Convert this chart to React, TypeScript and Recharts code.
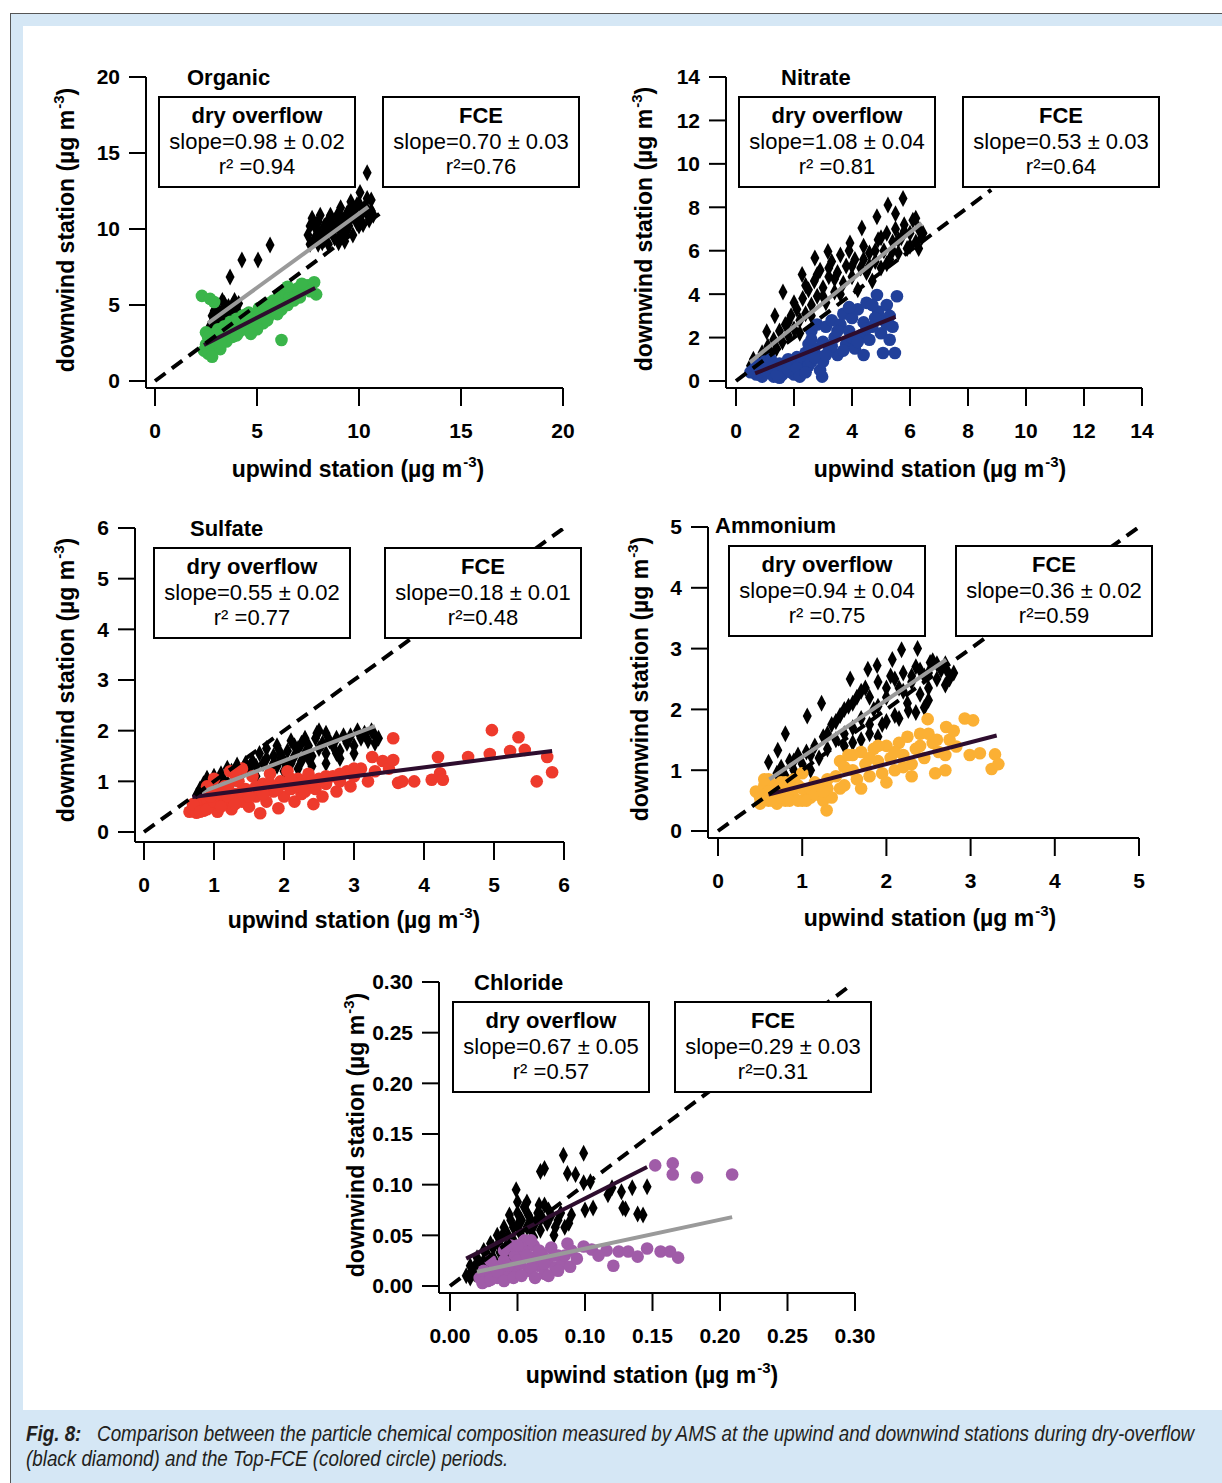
import React from 'react';
import { ScatterChart, Scatter, XAxis, YAxis } from 'recharts';

// [upwind, downwind] pairs (µg m-3)

const organicTicks = [0, 5, 10, 15, 20];
const organicDry = [
  [2.7, 3.6], [2.9, 3.9], [3.0, 4.3], [3.2, 3.8], [3.3, 4.6], [3.5, 4.1], [3.6, 4.9], [3.8, 4.4],
  [3.9, 5.3], [4.0, 4.7], [3.4, 5.1], [3.1, 4.7], [2.8, 4.3], [3.7, 3.9], [3.68, 6.84], [4.26, 7.96],
  [5.05, 7.96], [5.64, 8.95], [7.5, 9.6], [7.6, 10.2], [7.8, 9.3], [7.9, 10.0], [8.0, 10.5], [8.1, 9.7],
  [8.2, 9.1], [8.3, 10.2], [8.4, 9.6], [8.5, 10.6], [8.6, 9.9], [8.7, 10.3], [8.8, 9.4], [8.9, 10.8],
  [9.0, 10.1], [9.1, 11.4], [9.2, 9.8], [9.3, 10.5], [9.4, 11.0], [9.5, 10.2], [9.6, 10.7], [9.7, 9.6],
  [9.8, 11.3], [9.9, 10.4], [10.0, 11.7], [10.1, 10.9], [10.2, 10.3], [10.3, 11.5], [10.4, 11.0],
  [10.5, 10.6], [10.6, 11.9], [9.0, 9.1], [8.5, 9.0], [10.05, 12.4], [10.4, 13.7], [9.6, 11.8],
  [7.7, 10.7], [8.0, 9.0], [9.3, 9.2], [7.6, 9.0], [7.8, 10.4], [8.1, 10.9], [8.3, 9.3], [8.6, 10.9],
  [8.8, 10.0], [9.0, 11.0], [9.2, 10.6], [9.4, 9.9], [9.5, 11.2], [9.7, 10.9], [9.9, 11.6], [10.0, 10.2],
  [10.2, 11.2], [10.4, 12.0], [10.6, 11.2], [10.7, 10.9], [7.9, 9.5], [8.4, 10.1], [9.1, 9.6],
  [2.8, 3.7], [3.0, 4.0], [3.2, 4.4], [3.4, 4.3], [3.6, 4.5], [3.8, 5.0], [4.1, 5.1], [2.9, 4.6], [3.3, 5.3],
];
const organicFce = [
  [2.4, 2.0], [2.5, 2.4], [2.6, 1.8], [2.7, 2.8], [2.8, 2.2], [2.9, 3.1], [3.0, 2.5], [3.1, 3.4],
  [3.2, 2.1], [3.3, 2.9], [3.4, 3.6], [3.5, 2.6], [3.6, 3.2], [3.7, 3.9], [3.8, 2.9], [3.9, 3.5],
  [4.0, 4.1], [4.1, 3.2], [4.2, 3.7], [4.3, 4.3], [4.4, 3.4], [4.5, 3.9], [4.6, 4.5], [4.8, 4.0],
  [4.9, 3.6], [5.0, 4.4], [5.1, 4.8], [5.2, 4.1], [5.3, 3.8], [5.4, 4.6], [5.5, 5.1], [5.6, 4.3],
  [5.7, 4.9], [5.8, 5.3], [5.9, 4.5], [6.0, 5.0], [6.1, 5.6], [6.2, 4.7], [6.3, 5.2], [6.4, 5.8],
  [6.5, 5.0], [6.6, 5.5], [6.7, 6.0], [6.8, 5.3], [6.9, 5.7], [7.0, 6.1], [7.1, 5.5], [7.3, 6.0],
  [7.5, 6.3], [7.8, 6.5], [7.9, 5.7], [6.2, 2.7], [2.3, 5.6], [2.7, 5.4], [2.9, 5.2], [2.5, 3.2],
  [3.0, 3.0], [3.5, 3.3], [4.0, 3.0], [4.5, 4.4], [5.0, 3.4], [5.5, 4.0], [6.0, 4.4], [6.5, 6.2],
  [7.2, 6.4], [7.6, 5.9], [3.2, 2.5], [2.6, 2.9], [2.8, 1.6], [4.7, 3.1],
];
const organicDryFit = [[2.6, 3.8], [10.45, 11.45]];
const organicFceFit = [[2.4, 2.37], [7.85, 6.12]];
const organicOneToOne = [[0, 0], [11, 11]];

const nitrateTicks = [0, 2, 4, 6, 8, 10, 12, 14];
const nitrateDry = [
  [0.5, 0.7], [0.6, 1.0], [0.8, 0.9], [0.9, 1.3], [1.0, 1.1], [1.1, 1.6], [1.2, 1.3], [1.3, 1.9],
  [1.4, 1.5], [1.5, 2.3], [1.6, 1.8], [1.7, 2.6], [1.8, 2.1], [1.9, 3.0], [2.0, 2.4], [2.1, 3.3],
  [2.2, 2.8], [2.3, 3.8], [2.4, 3.1], [2.5, 4.2], [2.6, 3.5], [2.7, 4.6], [2.8, 3.9], [2.9, 5.1],
  [3.0, 4.3], [3.1, 3.6], [3.2, 4.8], [3.3, 5.5], [3.4, 4.1], [3.5, 5.0], [3.6, 5.8], [3.7, 4.5],
  [3.8, 5.3], [3.9, 6.0], [4.0, 4.8], [4.1, 5.6], [4.2, 4.2], [4.3, 5.2], [4.4, 6.2], [4.5, 5.0],
  [4.6, 5.9], [4.7, 4.6], [4.8, 5.5], [4.9, 6.5], [5.0, 5.2], [5.1, 6.0], [5.2, 6.8], [5.3, 5.6],
  [5.4, 6.4], [5.5, 7.0], [5.6, 5.9], [5.7, 6.6], [5.8, 7.2], [5.9, 6.1], [6.0, 6.8], [6.1, 7.4],
  [6.2, 6.4], [6.3, 7.0], [6.4, 6.6], [5.76, 8.4], [5.24, 8.1], [4.86, 7.56], [4.34, 7.05],
  [3.93, 6.36], [3.17, 5.96], [2.72, 5.67], [2.28, 4.9], [1.62, 4.1], [1.34, 3.0], [1.06, 2.27],
  [5.5, 7.7], [6.2, 7.5], [2.0, 3.6], [2.4, 4.4], [2.8, 4.9], [3.2, 5.2], [3.6, 4.0], [4.0, 5.3],
  [4.4, 5.6], [4.8, 6.0], [5.2, 5.4], [5.6, 6.5], [6.0, 6.2], [3.4, 4.7], [3.0, 3.9], [2.6, 3.0],
  [2.2, 2.2], [1.8, 2.7], [4.6, 5.3], [5.0, 6.6], [5.4, 6.0], [5.8, 6.9], [6.3, 6.1], [6.45, 6.8],
];
const nitrateFce = [
  [0.6, 0.5], [0.7, 0.8], [0.8, 0.3], [0.9, 0.6], [1.0, 0.9], [1.1, 0.4], [1.2, 0.7], [1.3, 0.2],
  [1.4, 0.5], [1.5, 0.8], [1.6, 0.3], [1.7, 0.6], [1.8, 1.0], [1.9, 0.4], [2.0, 0.7], [2.1, 1.1],
  [1.2, 1.0], [0.9, 0.2], [1.5, 0.15], [2.2, 0.5], [2.3, 0.9], [2.0, 0.3], [2.4, 1.3], [2.5, 1.7],
  [2.6, 2.3], [2.7, 1.5], [2.8, 2.6], [2.9, 1.1], [2.97, 0.2], [2.9, 0.5], [3.0, 1.8], [3.1, 2.5],
  [3.2, 1.4], [3.3, 2.8], [3.4, 2.0], [3.5, 1.2], [3.6, 2.6], [3.7, 3.1], [3.8, 1.7], [3.9, 2.3],
  [4.0, 2.9], [4.1, 1.5], [4.2, 3.3], [4.3, 2.1], [4.4, 2.7], [4.5, 3.6], [4.6, 1.9], [4.7, 2.5],
  [4.86, 3.96], [4.9, 3.2], [5.0, 2.2], [5.07, 1.29], [5.1, 2.8], [5.2, 3.5], [5.3, 1.9],
  [5.48, 1.29], [5.55, 3.9], [5.4, 2.5], [4.4, 1.2], [3.0, 0.9], [2.5, 0.7], [0.5, 0.4], [0.7, 0.3],
  [0.8, 0.6], [1.0, 0.5], [1.1, 0.8], [1.3, 0.6], [1.4, 0.3], [1.6, 0.7], [1.8, 0.5], [1.9, 0.8],
  [2.1, 0.6], [2.2, 0.2], [2.4, 0.4], [2.6, 0.9], [2.7, 1.1], [3.3, 1.6], [3.7, 1.4], [4.0, 2.0],
  [4.2, 1.8], [4.5, 2.4], [4.8, 2.9], [5.2, 2.6], [3.5, 2.3], [3.9, 3.4], [4.7, 3.5], [5.3, 3.0],
  [3.1, 1.2], [2.6, 1.9],
];
const nitrateDryFit = [[0.48, 0.86], [6.4, 7.27]];
const nitrateFceFit = [[0.66, 0.35], [5.5, 2.95]];
const nitrateOneToOne = [[0, 0], [8.8, 8.8]];

const sulfateTicks = [0, 1, 2, 3, 4, 5, 6];
const sulfateDry = [
  [0.75, 0.72], [0.8, 0.85], [0.85, 0.95], [0.9, 1.06], [0.95, 0.8], [1.0, 0.9], [1.05, 1.0],
  [1.1, 1.15], [1.19, 1.26], [1.2, 0.95], [1.3, 1.05], [1.33, 1.32], [1.4, 1.15], [1.5, 1.25],
  [1.6, 1.1], [1.7, 1.35], [1.75, 1.45], [1.8, 1.2], [1.85, 1.5], [1.9, 1.3], [1.95, 1.55],
  [2.0, 1.4], [2.05, 1.6], [2.1, 1.35], [2.15, 1.5], [2.2, 1.65], [2.25, 1.4], [2.3, 1.55],
  [2.35, 1.7], [2.4, 1.5], [2.5, 1.65], [2.55, 1.75], [2.6, 1.55], [2.7, 1.7], [2.75, 1.85],
  [2.8, 1.6], [2.9, 1.75], [2.95, 1.9], [3.0, 1.7], [3.1, 1.85], [3.15, 1.95], [3.2, 1.8],
  [3.3, 1.9], [3.35, 1.85], [2.47, 1.95], [2.5, 2.0], [2.6, 1.95], [2.3, 1.85], [2.1, 1.8],
  [1.9, 1.7], [1.75, 1.65], [2.4, 1.3], [2.2, 1.25], [2.0, 1.2], [2.6, 1.35], [2.8, 1.45], [3.0, 1.55],
  [1.0, 1.1], [1.15, 1.0], [1.25, 1.2], [1.45, 1.35], [1.55, 1.4], [1.65, 1.55], [1.95, 1.45],
  [2.05, 1.3], [2.15, 1.7], [2.25, 1.75], [2.45, 1.85], [2.65, 1.8], [2.75, 1.55], [2.85, 1.9],
  [3.05, 2.0], [3.25, 2.0], [3.3, 1.75], [2.35, 1.45], [1.6, 1.3], [1.85, 1.35],
];
const sulfateFce = [
  [0.65, 0.4], [0.7, 0.45], [0.75, 0.38], [0.8, 0.55], [0.85, 0.42], [0.9, 0.65], [0.95, 0.5],
  [1.0, 0.8], [1.05, 0.4], [1.1, 0.7], [1.15, 0.55], [1.2, 0.9], [1.25, 0.45], [1.3, 0.75],
  [1.35, 1.0], [1.4, 0.6], [1.45, 0.85], [1.5, 0.5], [1.55, 1.1], [1.6, 0.7], [1.66, 0.37],
  [1.7, 0.95], [1.75, 0.6], [1.8, 1.15], [1.85, 0.8], [1.92, 0.47], [1.95, 1.0], [2.0, 0.7],
  [2.05, 1.2], [2.1, 0.85], [2.15, 0.6], [2.2, 1.05], [2.25, 0.75], [2.3, 0.95], [2.35, 1.15],
  [2.42, 0.55], [2.45, 0.85], [2.5, 1.05], [2.55, 0.7], [2.6, 0.95], [2.7, 1.1], [2.75, 0.8],
  [2.8, 1.0], [2.9, 1.2], [2.95, 0.9], [3.0, 1.1], [3.1, 1.25], [3.2, 1.0], [3.26, 1.48], [3.3, 1.2],
  [3.41, 1.4], [3.5, 1.25], [3.56, 1.42], [3.56, 1.85], [3.63, 0.97], [3.69, 1.0], [3.86, 1.0],
  [4.11, 1.03], [4.2, 1.48], [4.23, 1.16], [4.27, 1.03], [4.63, 1.48], [4.94, 1.54], [4.97, 2.01],
  [5.23, 1.6], [5.35, 1.87], [5.44, 1.62], [5.61, 1.0], [5.76, 1.48], [5.83, 1.18], [1.0, 1.05],
  [0.9, 0.9], [1.23, 1.2], [1.4, 1.25], [0.7, 0.55], [0.8, 0.4], [0.9, 0.45], [1.0, 0.6], [1.1, 0.5],
  [1.2, 0.7], [1.3, 0.55], [1.4, 0.8], [1.5, 0.7], [1.6, 0.9], [1.7, 0.75], [1.8, 0.95], [1.9, 0.85],
  [2.0, 0.95], [2.1, 1.05], [2.2, 0.9], [2.3, 0.8], [2.4, 1.0], [2.6, 1.1], [2.8, 1.15], [3.0, 1.25],
  [1.3, 1.15], [0.95, 0.7], [1.15, 0.9],
];
const sulfateDryFit = [[0.83, 0.79], [3.3, 2.09]];
const sulfateFceFit = [[0.69, 0.69], [5.83, 1.6]];
const sulfateOneToOne = [[0, 0], [6, 6]];

const ammoniumTicks = [0, 1, 2, 3, 4, 5];
const ammoniumDry = [
  [0.7, 0.95], [0.75, 1.05], [0.8, 0.9], [0.85, 1.15], [0.9, 1.0], [0.95, 1.25], [1.0, 1.1],
  [1.05, 1.3], [1.1, 1.0], [1.15, 1.4], [1.2, 1.2], [1.25, 1.55], [1.3, 1.35], [1.35, 1.75],
  [1.4, 1.5], [1.45, 1.9], [1.5, 1.6], [1.55, 2.05], [1.6, 1.7], [1.65, 2.2], [1.7, 1.85],
  [1.75, 2.35], [1.8, 1.6], [1.85, 2.0], [1.9, 2.45], [1.95, 1.75], [2.0, 2.2], [2.05, 2.55],
  [2.1, 1.9], [2.15, 2.35], [2.2, 2.6], [2.25, 2.1], [2.3, 2.45], [2.35, 2.7], [2.4, 2.25],
  [2.45, 2.55], [2.5, 2.35], [2.55, 2.8], [2.6, 2.5], [2.65, 2.65], [2.7, 2.4], [2.8, 2.6],
  [1.5, 1.4], [1.7, 1.5], [1.9, 1.55], [0.6, 1.13], [0.71, 1.33], [0.8, 1.6], [1.06, 1.89],
  [1.23, 2.1], [1.57, 2.5], [1.78, 2.66], [1.89, 2.72], [2.07, 2.82], [2.18, 2.98], [2.37, 3.0],
  [2.52, 2.77], [2.72, 2.64], [2.26, 1.98], [2.35, 1.95], [2.45, 2.03], [1.4, 1.8], [1.5, 2.0],
  [1.6, 2.1], [1.7, 2.3], [1.8, 2.2], [1.9, 2.05], [2.0, 2.35], [2.1, 2.5], [2.2, 2.3], [2.3, 2.55],
  [2.4, 2.65], [2.5, 2.6], [2.6, 2.75], [2.7, 2.75], [2.75, 2.5], [1.6, 1.45], [1.8, 1.75], [2.0, 1.8],
  [1.3, 1.6], [1.1, 1.25], [0.9, 1.15], [0.75, 0.85], [2.15, 1.85], [2.5, 2.15],
];
const ammoniumFce = [
  [0.45, 0.65], [0.5, 0.55], [0.55, 0.75], [0.6, 0.5], [0.65, 0.7], [0.7, 0.6], [0.75, 0.8],
  [0.8, 0.5], [0.85, 0.65], [0.9, 0.55], [0.95, 0.75], [1.0, 0.5], [1.05, 0.65], [1.1, 0.55],
  [1.15, 0.8], [1.2, 0.6], [1.25, 0.5], [1.29, 0.34], [1.3, 0.7], [1.35, 0.55], [0.7, 0.45],
  [0.9, 0.85], [1.0, 0.95], [0.6, 0.85], [1.4, 0.9], [1.45, 1.15], [1.5, 0.75], [1.55, 1.25],
  [1.6, 1.0], [1.65, 0.85], [1.7, 1.3], [1.75, 1.1], [1.8, 0.9], [1.85, 1.35], [1.9, 1.15],
  [1.95, 0.95], [2.0, 1.4], [2.05, 1.2], [2.1, 1.0], [2.15, 1.45], [2.2, 1.25], [2.25, 1.55],
  [2.3, 1.1], [2.35, 1.35], [2.4, 1.6], [2.45, 1.2], [2.49, 1.84], [2.55, 1.45], [2.58, 0.95],
  [2.62, 1.3], [2.71, 1.71], [2.75, 1.5], [2.83, 1.39], [2.93, 1.85], [2.99, 1.25], [3.03, 1.82],
  [3.11, 1.28], [3.25, 1.02], [3.29, 1.26], [3.33, 1.1], [2.0, 0.8], [1.7, 0.7], [2.3, 0.9], [2.7, 1.0],
  [0.5, 0.45], [0.55, 0.6], [0.6, 0.65], [0.65, 0.5], [0.7, 0.75], [0.75, 0.55], [0.8, 0.65],
  [0.85, 0.5], [0.9, 0.7], [0.95, 0.5], [1.0, 0.7], [1.05, 0.5], [1.1, 0.7], [1.15, 0.6], [1.2, 0.75],
  [1.25, 0.65], [0.8, 0.8], [0.55, 0.85], [1.3, 0.85], [1.45, 0.7], [1.5, 1.05], [1.6, 1.25],
  [1.8, 1.2], [1.9, 1.4], [2.1, 1.3], [2.2, 1.05], [2.4, 1.4], [2.5, 1.6], [2.6, 1.5], [2.7, 1.25],
  [2.8, 1.65],
];
const ammoniumDryFit = [[0.61, 0.85], [2.71, 2.82]];
const ammoniumFceFit = [[0.6, 0.6], [3.31, 1.57]];
const ammoniumOneToOne = [[0, 0], [5, 5]];

const chlorideTicks = [0, 0.05, 0.1, 0.15, 0.2, 0.25, 0.3];
const chlorideDry = [
  [0.012, 0.01], [0.015, 0.02], [0.018, 0.012], [0.02, 0.028], [0.022, 0.018], [0.025, 0.035],
  [0.027, 0.022], [0.03, 0.042], [0.032, 0.028], [0.035, 0.05], [0.037, 0.033], [0.04, 0.058],
  [0.042, 0.04], [0.045, 0.065], [0.047, 0.045], [0.05, 0.072], [0.052, 0.052], [0.055, 0.078],
  [0.057, 0.058], [0.06, 0.065], [0.062, 0.048], [0.065, 0.072], [0.067, 0.055], [0.07, 0.08],
  [0.072, 0.062], [0.075, 0.07], [0.077, 0.05], [0.08, 0.065], [0.085, 0.058], [0.09, 0.07],
  [0.035, 0.02], [0.045, 0.03], [0.055, 0.04], [0.02, 0.015], [0.084, 0.129], [0.099, 0.131],
  [0.067, 0.113], [0.07, 0.116], [0.087, 0.111], [0.093, 0.11], [0.099, 0.102], [0.104, 0.103],
  [0.12, 0.097], [0.127, 0.093], [0.135, 0.097], [0.146, 0.098], [0.117, 0.09], [0.128, 0.077],
  [0.13, 0.076], [0.139, 0.071], [0.143, 0.07], [0.1, 0.075], [0.106, 0.077], [0.049, 0.095],
  [0.05, 0.083], [0.044, 0.07], [0.057, 0.083], [0.015, 0.008], [0.02, 0.022], [0.025, 0.012],
  [0.028, 0.03], [0.032, 0.038], [0.036, 0.042], [0.04, 0.03], [0.043, 0.05], [0.047, 0.058],
  [0.05, 0.06], [0.053, 0.065], [0.058, 0.07], [0.06, 0.055], [0.063, 0.062], [0.066, 0.08],
  [0.068, 0.068], [0.073, 0.075], [0.078, 0.058], [0.082, 0.072], [0.088, 0.062], [0.038, 0.048],
  [0.03, 0.02], [0.025, 0.025], [0.018, 0.018],
];
const chlorideFce = [
  [0.022, 0.008], [0.025, 0.015], [0.028, 0.005], [0.03, 0.012], [0.033, 0.02], [0.035, 0.008],
  [0.038, 0.015], [0.04, 0.025], [0.042, 0.01], [0.045, 0.018], [0.048, 0.03], [0.05, 0.012],
  [0.052, 0.022], [0.055, 0.035], [0.058, 0.015], [0.06, 0.028], [0.062, 0.04], [0.065, 0.02],
  [0.068, 0.032], [0.07, 0.012], [0.072, 0.025], [0.075, 0.038], [0.078, 0.018], [0.08, 0.03],
  [0.083, 0.022], [0.087, 0.042], [0.089, 0.019], [0.045, 0.04], [0.055, 0.045], [0.099, 0.039],
  [0.116, 0.035], [0.121, 0.02], [0.125, 0.034], [0.132, 0.034], [0.139, 0.029], [0.146, 0.037],
  [0.156, 0.034], [0.163, 0.034], [0.169, 0.028], [0.105, 0.036], [0.11, 0.03], [0.152, 0.119],
  [0.165, 0.121], [0.165, 0.11], [0.183, 0.107], [0.209, 0.11], [0.024, 0.003], [0.03, 0.006],
  [0.035, 0.014], [0.04, 0.005], [0.043, 0.02], [0.047, 0.008], [0.05, 0.025], [0.053, 0.01],
  [0.057, 0.03], [0.06, 0.018], [0.063, 0.008], [0.066, 0.035], [0.07, 0.022], [0.073, 0.01],
  [0.077, 0.03], [0.08, 0.015], [0.085, 0.03], [0.09, 0.035], [0.094, 0.027], [0.05, 0.04],
  [0.06, 0.045], [0.04, 0.035], [0.03, 0.025],
];
const chlorideDryFit = [[0.012, 0.027], [0.146, 0.1175]];
const chlorideFceFit = [[0.02, 0.014], [0.209, 0.068]];
const chlorideOneToOne = [[0, 0], [0.298, 0.298]];

const GRAY = '#9a9a9a';
const DARK = '#2e0d2e';
const FONT = "'Liberation Sans', Arial, Helvetica, sans-serif";

const toPts = (a: number[][]) => a.map(([x, y]) => ({ x, y }));

const Diamond = (p: any) => (
  <path
    d={`M${p.cx},${p.cy - 8.5}L${p.cx + 4.5},${p.cy}L${p.cx},${p.cy + 8.5}L${p.cx - 4.5},${p.cy}Z`}
    fill="#000"
  />
);
const dot = (color: string) => (p: any) => <circle cx={p.cx} cy={p.cy} r={6.3} fill={color} />;
const noShape = () => <g />;

type Plot = { left: number; top: number; right: number; bottom: number; gapX: number; gapY: number };

function Panel(props: {
  plot: Plot;
  xTicks: number[];
  yTicks: number[];
  dry: number[][];
  fce: number[][];
  dryFit: number[][];
  fceFit: number[][];
  oneToOne: number[][];
  fceColor: string;
  dryFitColor: string;
  fceFitColor: string;
  digits: number;
}) {
  const { plot, xTicks, yTicks, digits } = props;
  const yW = 90, xH = 60, mt = 15, mr = 40;
  const w = plot.right - plot.left;
  const h = plot.bottom - plot.top;
  const x0 = xTicks[0], x1 = xTicks[xTicks.length - 1];
  const y0 = yTicks[0], y1 = yTicks[yTicks.length - 1];
  const pxX = (w - plot.gapX) / (x1 - x0);
  const pxY = (h - plot.gapY) / (y1 - y0);
  const fmt = (v: number) => v.toFixed(digits);
  const axisStyle = { stroke: '#000', strokeWidth: 2 };
  const tickStyle = { fill: '#000', fontSize: 21, fontWeight: 700 };
  return (
    <div style={{ position: 'absolute', left: plot.left - yW, top: plot.top - mt }}>
      <ScatterChart width={w + yW + mr} height={h + mt + xH} margin={{ top: mt, right: mr, bottom: 0, left: 0 }}>
        <XAxis
          type="number"
          dataKey="x"
          domain={[x0 - plot.gapX / pxX, x1]}
          ticks={xTicks}
          interval={0}
          allowDataOverflow
          height={xH}
          tickSize={18}
          tickMargin={17}
          axisLine={axisStyle}
          tickLine={axisStyle}
          tick={tickStyle}
          tickFormatter={fmt}
        />
        <YAxis
          type="number"
          dataKey="y"
          domain={[y0 - plot.gapY / pxY, y1]}
          ticks={yTicks}
          interval={0}
          allowDataOverflow
          width={yW}
          tickSize={17}
          tickMargin={9}
          axisLine={axisStyle}
          tickLine={axisStyle}
          tick={tickStyle}
          tickFormatter={fmt}
        />
        <Scatter data={toPts(props.dry)} shape={Diamond} isAnimationActive={false} />
        <Scatter data={toPts(props.fce)} shape={dot(props.fceColor)} isAnimationActive={false} />
        <Scatter data={toPts(props.dryFit)} shape={noShape} line={{ stroke: props.dryFitColor, strokeWidth: 4 }} isAnimationActive={false} />
        <Scatter data={toPts(props.fceFit)} shape={noShape} line={{ stroke: props.fceFitColor, strokeWidth: 4 }} isAnimationActive={false} />
        <Scatter data={toPts(props.oneToOne)} shape={noShape} line={{ stroke: '#000', strokeWidth: 4, strokeDasharray: '13 8' }} isAnimationActive={false} />
      </ScatterChart>
    </div>
  );
}

const Sup = () => (
  <span style={{ fontSize: 15, position: 'relative', top: -10, marginLeft: 1 }}>-3</span>
);

const XLabel = ({ cx, base }: { cx: number; base: number }) => (
  <div style={{ position: 'absolute', left: cx, top: base - 19.5, transform: 'translateX(-50%)', fontSize: 23, lineHeight: '23px', fontWeight: 700, whiteSpace: 'nowrap' }}>
    upwind station (µg m<Sup />)
  </div>
);

const YLabel = ({ cx, cy }: { cx: number; cy: number }) => (
  <div style={{ position: 'absolute', left: cx, top: cy, transform: 'translate(-50%,-50%) rotate(-90deg)', fontSize: 23, lineHeight: '23px', fontWeight: 700, whiteSpace: 'nowrap' }}>
    downwind station (µg m<Sup />)
  </div>
);

const Title = ({ x, base, text }: { x: number; base: number; text: string }) => (
  <div style={{ position: 'absolute', left: x, top: base - 18.6, fontSize: 22, lineHeight: '22px', fontWeight: 700, whiteSpace: 'nowrap' }}>{text}</div>
);

const Box = ({ x, y, lines }: { x: number; y: number; lines: string[] }) => (
  <div style={{ position: 'absolute', left: x, top: y, width: 198, height: 92, border: '2px solid #000', boxSizing: 'border-box', textAlign: 'center', fontSize: 22, lineHeight: '25.5px', paddingTop: 5, whiteSpace: 'nowrap', background: '#fff' }}>
    <div style={{ fontWeight: 700 }}>{lines[0]}</div>
    <div>{lines[1]}</div>
    <div>{lines[2]}</div>
  </div>
);

export default function App() {
  return (
    <div style={{ position: 'relative', width: 1222, height: 1483, overflow: 'hidden', background: '#fff', fontFamily: FONT, color: '#000' }}>
      <style>{'body{margin:0}'}</style>
      <div style={{ position: 'absolute', left: 10, top: 13, right: 0, bottom: 0, background: '#d5e7f5', borderLeft: '1px solid #555', borderTop: '1px solid #555' }} />
      <div style={{ position: 'absolute', left: 23, top: 26, right: 0, height: 1384, background: '#fff' }} />

      <Panel plot={{ left: 146, top: 77, right: 563, bottom: 388, gapX: 9, gapY: 7 }} xTicks={organicTicks} yTicks={organicTicks}
        dry={organicDry} fce={organicFce} dryFit={organicDryFit} fceFit={organicFceFit} oneToOne={organicOneToOne}
        fceColor="#3ab54a" dryFitColor={GRAY} fceFitColor={DARK} digits={0} />
      <Title x={187} base={86} text="Organic" />
      <Box x={158} y={96} lines={['dry overflow', 'slope=0.98 ± 0.02', 'r² =0.94']} />
      <Box x={382} y={96} lines={['FCE', 'slope=0.70 ± 0.03', 'r²=0.76']} />
      <XLabel cx={358} base={477} />
      <YLabel cx={67} cy={230} />

      <Panel plot={{ left: 726, top: 77, right: 1142, bottom: 388, gapX: 10, gapY: 7 }} xTicks={nitrateTicks} yTicks={nitrateTicks}
        dry={nitrateDry} fce={nitrateFce} dryFit={nitrateDryFit} fceFit={nitrateFceFit} oneToOne={nitrateOneToOne}
        fceColor="#21409a" dryFitColor={GRAY} fceFitColor={DARK} digits={0} />
      <Title x={781} base={86} text="Nitrate" />
      <Box x={738} y={96} lines={['dry overflow', 'slope=1.08 ± 0.04', 'r² =0.81']} />
      <Box x={962} y={96} lines={['FCE', 'slope=0.53 ± 0.03', 'r²=0.64']} />
      <XLabel cx={940} base={477} />
      <YLabel cx={645} cy={229} />

      <Panel plot={{ left: 135, top: 528, right: 564, bottom: 842, gapX: 9, gapY: 10 }} xTicks={sulfateTicks} yTicks={sulfateTicks}
        dry={sulfateDry} fce={sulfateFce} dryFit={sulfateDryFit} fceFit={sulfateFceFit} oneToOne={sulfateOneToOne}
        fceColor="#ee3a2c" dryFitColor={GRAY} fceFitColor={DARK} digits={0} />
      <Title x={190} base={537} text="Sulfate" />
      <Box x={153} y={547} lines={['dry overflow', 'slope=0.55 ± 0.02', 'r² =0.77']} />
      <Box x={384} y={547} lines={['FCE', 'slope=0.18 ± 0.01', 'r²=0.48']} />
      <XLabel cx={354} base={928} />
      <YLabel cx={67} cy={680} />

      <Panel plot={{ left: 708, top: 527, right: 1139, bottom: 838, gapX: 10, gapY: 7 }} xTicks={ammoniumTicks} yTicks={ammoniumTicks}
        dry={ammoniumDry} fce={ammoniumFce} dryFit={ammoniumDryFit} fceFit={ammoniumFceFit} oneToOne={ammoniumOneToOne}
        fceColor="#fbb034" dryFitColor={GRAY} fceFitColor={DARK} digits={0} />
      <Title x={715} base={534} text="Ammonium" />
      <Box x={728} y={545} lines={['dry overflow', 'slope=0.94 ± 0.04', 'r² =0.75']} />
      <Box x={955} y={545} lines={['FCE', 'slope=0.36 ± 0.02', 'r²=0.59']} />
      <XLabel cx={930} base={926} />
      <YLabel cx={641} cy={679} />

      <Panel plot={{ left: 439, top: 982, right: 855, bottom: 1293, gapX: 11, gapY: 7 }} xTicks={chlorideTicks} yTicks={chlorideTicks}
        dry={chlorideDry} fce={chlorideFce} dryFit={chlorideDryFit} fceFit={chlorideFceFit} oneToOne={chlorideOneToOne}
        fceColor="#a05ca8" dryFitColor={DARK} fceFitColor={GRAY} digits={2} />
      <Title x={474} base={991} text="Chloride" />
      <Box x={452} y={1001} lines={['dry overflow', 'slope=0.67 ± 0.05', 'r² =0.57']} />
      <Box x={674} y={1001} lines={['FCE', 'slope=0.29 ± 0.03', 'r²=0.31']} />
      <XLabel cx={652} base={1383} />
      <YLabel cx={357} cy={1135} />

      <div style={{ position: 'absolute', left: 26, top: 1421, fontStyle: 'italic', fontSize: 22, lineHeight: '25px', color: '#231f20', whiteSpace: 'nowrap', transform: 'scaleX(0.855)', transformOrigin: 'left top' }}>
        <div><b>Fig. 8:</b>&nbsp;&nbsp; Comparison between the particle chemical composition measured by AMS at the upwind and downwind stations during dry-overflow</div>
        <div>(black diamond) and the Top-FCE (colored circle) periods.</div>
      </div>
    </div>
  );
}
